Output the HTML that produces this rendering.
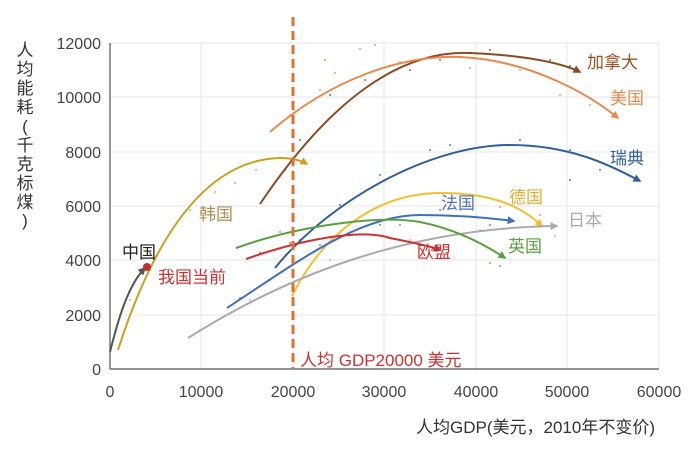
<!DOCTYPE html>
<html><head><meta charset="utf-8"><style>
body{margin:0;background:#fff}
svg text{font-family:"Liberation Sans","Noto Sans CJK SC",sans-serif}
</style></head><body>
<svg id="s" width="700" height="452" xmlns="http://www.w3.org/2000/svg">
<defs>
<marker id="a" viewBox="0 0 10 10" refX="8" refY="5" markerWidth="4" markerHeight="4" orient="auto"><path d="M0,0L10,5L0,10z" fill="context-stroke"/></marker>
</defs>
<g stroke="#e6e6e6" stroke-width="1">
<line x1="110" y1="43" x2="659" y2="43"/><line x1="110" y1="97" x2="659" y2="97"/><line x1="110" y1="152" x2="659" y2="152"/><line x1="110" y1="206" x2="659" y2="206"/><line x1="110" y1="260" x2="659" y2="260"/><line x1="110" y1="315" x2="659" y2="315"/>
<line x1="201" y1="43" x2="201" y2="369"/><line x1="293" y1="43" x2="293" y2="369"/><line x1="384" y1="43" x2="384" y2="369"/><line x1="476" y1="43" x2="476" y2="369"/><line x1="567" y1="43" x2="567" y2="369"/><line x1="659" y1="43" x2="659" y2="369"/>
</g>
<g stroke="#555" stroke-width="1.2"><line x1="110" y1="43" x2="110" y2="369"/><line x1="110" y1="369" x2="659" y2="369"/></g>
<g font-size="16" fill="#444" text-anchor="end">
<text x="101" y="49">12000</text><text x="101" y="103">10000</text><text x="101" y="158">8000</text><text x="101" y="212">6000</text><text x="101" y="266">4000</text><text x="101" y="321">2000</text><text x="101" y="375">0</text>
</g>
<g font-size="16" fill="#444" text-anchor="middle">
<text x="110" y="397">0</text><text x="201" y="397">10000</text><text x="293" y="397">20000</text><text x="384" y="397">30000</text><text x="476" y="397">40000</text><text x="567" y="397">50000</text><text x="659" y="397">60000</text>
</g>
<g font-size="17" fill="#333" text-anchor="middle">
<text x="25" y="56">人</text><text x="25" y="75">均</text><text x="25" y="94">能</text><text x="25" y="113">耗</text><text x="25" y="132">(</text><text x="25" y="151">千</text><text x="25" y="170">克</text><text x="25" y="189">标</text><text x="25" y="208">煤</text><text x="25" y="226">)</text>
</g>
<text x="416" y="433" font-size="17" fill="#333">人均GDP(美元，2010年不变价)</text>
<g opacity="0.8">
<g fill="#c9a020"><circle cx="150" cy="270" r="1"/><circle cx="170" cy="232" r="1"/><circle cx="190" cy="210" r="1"/><circle cx="215" cy="192" r="1"/><circle cx="235" cy="183" r="1"/><circle cx="256" cy="170" r="1"/><circle cx="130" cy="300" r="1"/><circle cx="325" cy="60" r="1"/><circle cx="335" cy="73" r="1"/><circle cx="360" cy="49" r="1"/><circle cx="375" cy="45" r="1"/><circle cx="420" cy="195" r="1"/><circle cx="460" cy="200" r="1"/><circle cx="500" cy="207" r="1"/><circle cx="540" cy="215" r="1"/></g>
<g fill="#8b4a20"><circle cx="285" cy="170" r="1"/><circle cx="300" cy="140" r="1"/><circle cx="330" cy="95" r="1"/><circle cx="365" cy="80" r="1"/><circle cx="410" cy="70" r="1"/><circle cx="440" cy="60" r="1"/><circle cx="490" cy="50" r="1"/><circle cx="550" cy="60" r="1"/><circle cx="570" cy="66" r="1"/></g>
<g fill="#e8884a"><circle cx="290" cy="115" r="1"/><circle cx="320" cy="90" r="1"/><circle cx="400" cy="62" r="1"/><circle cx="470" cy="68" r="1"/><circle cx="520" cy="70" r="1"/><circle cx="560" cy="95" r="1"/><circle cx="590" cy="105" r="1"/></g>
<g fill="#2f5f9f"><circle cx="300" cy="240" r="1"/><circle cx="340" cy="205" r="1"/><circle cx="380" cy="175" r="1"/><circle cx="430" cy="150" r="1"/><circle cx="450" cy="145" r="1"/><circle cx="520" cy="140" r="1"/><circle cx="570" cy="150" r="1"/><circle cx="600" cy="170" r="1"/><circle cx="630" cy="176" r="1"/><circle cx="570" cy="180" r="1"/></g>
<g fill="#3f6fc0"><circle cx="240" cy="298" r="1"/><circle cx="270" cy="280" r="1"/><circle cx="320" cy="245" r="1"/><circle cx="380" cy="225" r="1"/><circle cx="440" cy="210" r="1"/><circle cx="490" cy="225" r="1"/></g>
<g fill="#5aa040"><circle cx="250" cy="243" r="1"/><circle cx="280" cy="232" r="1"/><circle cx="330" cy="215" r="1"/><circle cx="400" cy="225" r="1"/><circle cx="490" cy="263" r="1"/><circle cx="500" cy="266" r="1"/></g>
<g fill="#d03030"><circle cx="260" cy="253" r="1"/><circle cx="290" cy="243" r="1"/><circle cx="340" cy="232" r="1"/><circle cx="400" cy="240" r="1"/></g>
<g fill="#aaa"><circle cx="200" cy="330" r="1"/><circle cx="250" cy="300" r="1"/><circle cx="330" cy="260" r="1"/><circle cx="410" cy="240" r="1"/><circle cx="480" cy="230" r="1"/><circle cx="555" cy="236" r="1"/></g>
</g>
<g fill="none" stroke-width="2" marker-end="url(#a)">
<path stroke="#555" d="M110,352 C118,320 128,285 145,268"/>
<path stroke="#c9a020" d="M118,350 C150,250 200,160 280,158 C292,158 300,160 307,164"/>
<path stroke="#8b4a20" d="M260,204 C330,100 400,50 470,53 C520,55 560,62 580,72"/>
<path stroke="#e8884a" d="M270,132 C330,80 400,55 460,57 C530,60 590,95 618,118"/>
<path stroke="#2f5f9f" d="M275,268 C330,200 430,145 510,145 C570,145 610,165 640,181"/>
<path stroke="#f0c030" d="M292,296 C330,220 390,193 440,193 C490,193 520,205 542,226"/>
<path stroke="#3f6fc0" d="M227,308 C300,260 360,215 420,215 C460,215 490,218 514,221"/>
<path stroke="#aaaaaa" d="M188,338 C280,280 400,228 557,226"/>
<path stroke="#5aa040" d="M236,248 C300,225 380,215 420,222 C460,230 490,248 505,258"/>
<path stroke="#d03030" d="M246,259 C300,240 360,228 390,238 C410,242 430,246 440,250"/>
</g>
<circle cx="147" cy="267" r="4" fill="#c03030"/>
<line x1="293" y1="17" x2="293" y2="369" stroke="#e07030" stroke-width="3" stroke-dasharray="9,5"/>
<g font-size="17">
<text x="122" y="258" fill="#222">中国</text>
<text x="158" y="283" fill="#d03030">我国当前</text>
<text x="199" y="220" fill="#b09050">韩国</text>
<text x="300" y="366" fill="#d03030">人均 GDP20000 美元</text>
<text x="587" y="68" fill="#a05020">加拿大</text>
<text x="610" y="104" fill="#e8884a">美国</text>
<text x="610" y="164" fill="#2f5f9f">瑞典</text>
<text x="509" y="203" fill="#e0b030">德国</text>
<text x="441" y="209" fill="#5070c0">法国</text>
<text x="568" y="226" fill="#aaa">日本</text>
<text x="508" y="252" fill="#5aa040">英国</text>
<text x="417" y="258" fill="#d03030">欧盟</text>
</g>
</svg>
</body></html>
